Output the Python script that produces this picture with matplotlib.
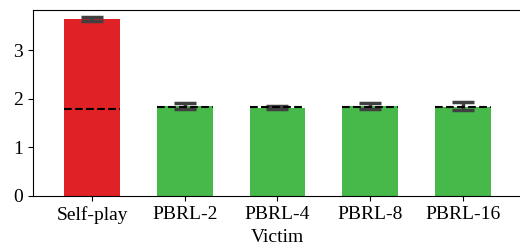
import matplotlib
matplotlib.use("Agg")
import matplotlib.pyplot as plt
import numpy as np

plt.rcParams['font.family'] = ['Liberation Serif', 'DejaVu Serif']

# data
victims = ["Self-play", "PBRL-2", "PBRL-4", "PBRL-8", "PBRL-16"]
means = [3.64, 1.85, 1.82, 1.85, 1.84]
err_lo = [0.04, 0.06, 0.04, 0.07, 0.08]
err_hi = [0.04, 0.06, 0.04, 0.07, 0.09]
baseline = [1.79, 1.83, 1.83, 1.83, 1.83]
colors = ["#e02126", "#46b94a", "#46b94a", "#46b94a", "#46b94a"]

fig = plt.figure(figsize=(5.2, 2.48), dpi=100)
ax = fig.add_axes([0.0635, 0.21, 0.94, 0.75])

x = np.arange(len(victims))
ax.bar(x, means, width=0.6, color=colors)
ax.errorbar(x, means, yerr=[err_lo, err_hi], fmt="none", ecolor="#404040",
            elinewidth=2.5, capsize=8.1, capthick=2.5)
for i in range(len(victims)):
    ax.hlines(baseline[i], x[i] - 0.3, x[i] + 0.3, colors="black",
              linestyles="dashed", linewidth=1.5, zorder=3)

ax.set_xlim(-0.638, 4.638)
ax.set_ylim(0, 3.83)
ax.set_xticks(x)
ax.set_xticklabels(victims)
ax.set_yticks([0, 1, 2, 3])
ax.tick_params(labelsize=14)
ax.set_xlabel("Victim", fontsize=14, labelpad=4)
ax.spines['right'].set_visible(False)

fig.savefig("out.png", dpi=100)
